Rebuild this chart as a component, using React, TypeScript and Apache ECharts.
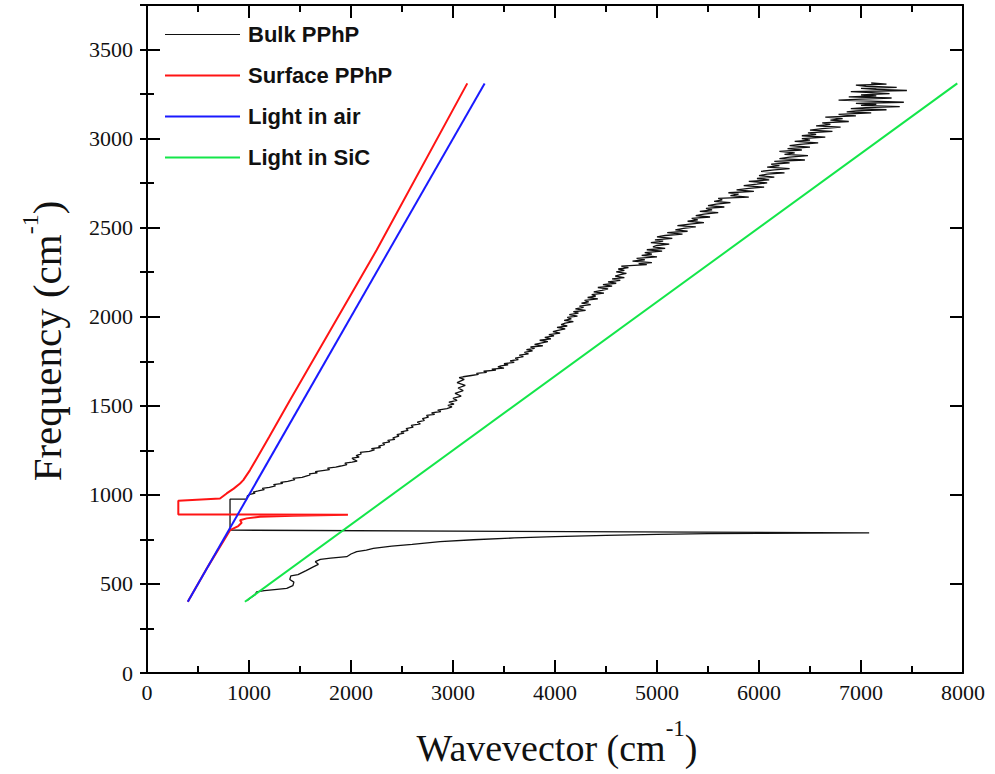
import React, { useEffect, useRef } from 'react';
import * as echarts from 'echarts';

// ---- data: [wavevector k (cm^-1), frequency ω (cm^-1)] ----
const bulkLower: [number, number][] = [
  [980, 405], [1010, 420], [1060, 440], [1075, 456], [1150, 462], [1250, 468], [1370, 475],
  [1430, 490], [1440, 510], [1400, 525], [1410, 545], [1480, 552], [1560, 575], [1630, 596],
  [1680, 610], [1650, 625], [1700, 638], [1800, 645], [1958, 653], [2000, 668], [2056, 681],
  [2150, 690], [2219, 700], [2400, 712], [2600, 722], [2873, 737], [3200, 748], [3600, 758],
  [4000, 766], [4500, 773], [5000, 778], [5500, 782], [6000, 784], [6500, 786], [7080, 787],
];
const bulkJoin: [number, number][] = [[814, 802], [814, 976]];
const bulkUpper: [number, number][] = [
  [977, 976], [985, 995], [1010, 1003], [1060, 1010], [1040, 1016], [1090, 1022], [1150, 1030],
  [1130, 1036], [1200, 1042], [1260, 1050], [1240, 1057], [1330, 1064], [1310, 1070], [1380, 1076],
  [1450, 1085], [1430, 1092], [1520, 1098], [1560, 1105], [1600, 1112], [1590, 1118], [1670, 1123],
  [1650, 1130], [1720, 1136], [1790, 1142], [1770, 1150], [1850, 1156], [1900, 1162], [1960, 1170],
  [1940, 1178], [2010, 1184], [2060, 1190], [2030, 1198], [2010, 1206], [2080, 1212], [2050, 1220],
  [2100, 1230], [2090, 1238], [2180, 1244], [2230, 1252], [2200, 1260], [2290, 1266], [2270, 1274],
  [2330, 1282], [2310, 1290], [2380, 1298], [2360, 1306], [2430, 1312], [2410, 1320], [2470, 1330],
  [2450, 1338], [2520, 1346], [2490, 1354], [2560, 1362], [2540, 1372], [2610, 1380], [2590, 1390],
  [2680, 1398], [2650, 1408], [2720, 1418], [2700, 1428], [2760, 1436], [2740, 1446], [2820, 1452],
  [2790, 1460], [2880, 1468], [2850, 1476], [2940, 1484], [2990, 1494], [2950, 1502], [3010, 1510],
  [2960, 1520], [3040, 1530], [3000, 1542], [3080, 1555], [3020, 1570], [3100, 1585], [3050, 1600],
  [3120, 1615], [3040, 1630], [3110, 1648], [3060, 1658],
  [3100, 1663], [3180, 1670], [3250, 1676], [3230, 1682], [3330, 1688], [3300, 1694], [3420, 1700],
  [3380, 1706], [3500, 1712], [3440, 1718], [3470, 1724], [3540, 1730], [3500, 1736], [3600, 1744],
  [3560, 1752], [3640, 1760], [3610, 1768], [3690, 1776], [3650, 1784], [3740, 1792], [3700, 1800],
  [3780, 1808], [3720, 1815], [3800, 1822], [3760, 1830], [3880, 1837], [3800, 1845], [3860, 1852],
  [3930, 1860], [3850, 1868], [3960, 1876], [3900, 1884], [3990, 1892], [3940, 1900], [4050, 1908],
  [3980, 1916], [4030, 1924], [4100, 1932], [4020, 1940], [4120, 1948], [4060, 1956], [4100, 1964],
  [4180, 1972], [4090, 1980], [4160, 1988], [4120, 1996],
  [4220, 2004], [4140, 2012], [4230, 2020], [4180, 2028], [4300, 2036], [4200, 2044], [4280, 2052],
  [4240, 2060], [4350, 2068], [4260, 2076], [4330, 2084], [4290, 2092], [4420, 2100], [4320, 2108],
  [4400, 2116], [4360, 2124], [4480, 2132], [4380, 2140], [4460, 2148], [4520, 2156], [4420, 2164],
  [4560, 2172], [4470, 2180], [4600, 2188], [4520, 2196],
  [4640, 2204], [4560, 2212], [4680, 2220], [4590, 2228], [4640, 2236], [4700, 2244], [4600, 2252],
  [4680, 2260], [4620, 2268], [4720, 2276], [4650, 2284], [4900, 2292], [4820, 2298], [4950, 2304],
  [4760, 2312], [4880, 2320], [4800, 2328], [5000, 2336], [4850, 2344], [4950, 2352], [4880, 2360],
  [5050, 2368], [4900, 2376], [5080, 2384], [4960, 2392], [5000, 2400], [5120, 2408], [4940, 2416],
  [5060, 2424], [4980, 2432], [5150, 2440], [5000, 2448], [5080, 2456], [5250, 2464], [5100, 2472],
  [5300, 2480], [5180, 2488], [5260, 2496],
  [5380, 2504], [5200, 2512], [5320, 2520], [5460, 2528], [5300, 2536], [5400, 2544], [5340, 2552],
  [5520, 2560], [5380, 2568], [5460, 2576], [5600, 2584], [5420, 2592], [5540, 2600], [5480, 2608],
  [5660, 2616], [5500, 2624], [5580, 2632], [5720, 2640], [5560, 2648], [5640, 2656], [5600, 2664],
  [5900, 2672], [5720, 2680], [5800, 2688], [5700, 2696],
  [5950, 2704], [5780, 2712], [5900, 2720], [6050, 2728], [5850, 2736], [5980, 2744], [6080, 2752],
  [5900, 2760], [6100, 2768], [5980, 2776], [6150, 2784], [6000, 2792], [6080, 2800], [6250, 2808],
  [6020, 2816], [6150, 2824], [6300, 2832], [6080, 2840], [6200, 2848], [6120, 2856], [6300, 2864],
  [6150, 2872], [6450, 2880], [6200, 2888], [6300, 2896],
  [6480, 2904], [6250, 2912], [6350, 2920], [6200, 2928], [6420, 2936], [6280, 2944], [6500, 2952],
  [6300, 2960], [6400, 2968], [6580, 2976], [6350, 2984], [6500, 2992], [6420, 3000], [6650, 3008],
  [6420, 3016], [6560, 3024], [6480, 3032], [6720, 3040], [6500, 3048], [6620, 3056], [6800, 3064],
  [6560, 3072], [6700, 3080], [6620, 3088], [6880, 3096],
  [6700, 3104], [6820, 3112], [6650, 3120], [6950, 3128], [6780, 3136], [7100, 3144], [6860, 3150],
  [6950, 3156], [7250, 3162], [6900, 3168], [7050, 3174], [7380, 3180], [7000, 3186], [7150, 3192],
  [6950, 3198], [7420, 3204], [7100, 3210], [6780, 3216], [7000, 3222], [7300, 3228], [6880, 3234],
  [7150, 3240], [7000, 3246], [7280, 3252], [7100, 3258], [6900, 3264], [7450, 3270], [7150, 3276],
  [7000, 3282], [7350, 3288], [7050, 3294], [6950, 3300], [7250, 3306], [7100, 3312],
];
const surfacePPhP: [number, number][] = [
  [400, 400], [600, 600], [814, 802], [895, 825], [928, 843], [912, 858], [977, 868], [1108, 877],
  [1435, 883], [1970, 888], [307, 890], [307, 967], [716, 980], [781, 1008], [850, 1035],
  [912, 1064], [944, 1083], [1010, 1139], [1200, 1328], [1400, 1530], [2250, 2373], [3140, 3310],
];
const lightInAir: [number, number][] = [[400, 400], [3310, 3310]];
const lightInSiC: [number, number][] = [[960, 400], [7944, 3310]];

const seriesNames = ['Bulk PPhP', 'Surface PPhP', 'Light in air', 'Light in SiC'];
const seriesColors = ['#111111', '#ff1414', '#1a1aff', '#14e64a'];

const xMin = 0, xMax = 8000, xStep = 1000;
const yMin = 0, yMax = 3750, yStep = 500, yMinorStep = 250;

const SERIF = '"Liberation Serif", "Times New Roman", serif';
const SANS = '"Liberation Sans", Arial, sans-serif';

export default function App() {
  const ref = useRef<HTMLDivElement>(null);
  useEffect(() => {
    if (!ref.current) return;
    const chart = echarts.init(ref.current, undefined, { renderer: 'svg' });
    const tickLine = { color: '#000', width: 2 };
    const axisLine = { show: true, onZero: false, lineStyle: { color: '#000', width: 2 } };
    const fmt = (v: number) => String(v);
    const xBase = (pos: 'bottom' | 'top', labels: boolean) => ({
      type: 'value', min: xMin, max: xMax, interval: xStep, position: pos,
      axisLine, splitLine: { show: false },
      axisTick: { show: true, inside: true, length: 13, lineStyle: tickLine },
      minorTick: { show: true, splitNumber: 2, length: 7, lineStyle: tickLine },
      axisLabel: { show: labels, formatter: fmt, fontFamily: SERIF, fontSize: 22, color: '#111', margin: 8 },
    });
    const yMajor = (pos: 'left' | 'right', labels: boolean) => ({
      type: 'value', min: yMin, max: yMax, interval: yStep, position: pos,
      axisLine, splitLine: { show: false },
      axisTick: { show: true, inside: true, length: 13, lineStyle: tickLine },
      axisLabel: { show: labels, formatter: fmt, showMaxLabel: false, fontFamily: SERIF, fontSize: 22, color: '#111', margin: 14 },
    });
    const yMinor = (pos: 'left' | 'right') => ({
      type: 'value', min: yMin, max: yMax, interval: yMinorStep, position: pos,
      axisLine: { show: false }, splitLine: { show: false },
      axisTick: { show: true, inside: true, length: 7, lineStyle: tickLine },
      axisLabel: { show: false },
    });
    const allData = [
      [...bulkLower, ...bulkJoin, ...bulkUpper],
      surfacePPhP,
      lightInAir,
      lightInSiC,
    ];
    const widths = [1.3, 2, 2, 2];
    chart.setOption({
      animation: false,
      backgroundColor: '#fff',
      grid: { left: 147, right: 32, top: 5, bottom: 101, containLabel: false },
      xAxis: [xBase('bottom', true), xBase('top', false)],
      yAxis: [yMajor('left', true), yMajor('right', false), yMinor('left'), yMinor('right')],
      legend: {
        orient: 'vertical', left: 165, top: 22, padding: 0,
        itemWidth: 75, itemHeight: 2, itemGap: 16, symbolKeepAspect: true,
        textStyle: { fontFamily: SANS, fontWeight: 'bold', fontSize: 22, color: '#111', lineHeight: 25, padding: [0, 0, 0, 3] },
        data: seriesNames.map((name, i) => ({
          name,
          icon: i === 0 ? 'path://M0,0H75V1H0Z' : 'rect',
        })),
      },
      series: seriesNames.map((name, i) => ({
        name, type: 'line', data: allData[i], symbol: 'none', showSymbol: false,
        xAxisIndex: 0, yAxisIndex: 0,
        lineStyle: { color: seriesColors[i], width: widths[i] },
        itemStyle: { color: seriesColors[i] },
        z: 2 + i,
      })),
      graphic: [
        {
          type: 'text', x: 557, y: 748,
          style: {
            text: '{a|Wavevector (cm}{s|-1}{a|)}',
            align: 'center', verticalAlign: 'middle',
            rich: {
              a: { fontFamily: SERIF, fontSize: 38, lineHeight: 63, fill: '#111' },
              s: { fontFamily: SERIF, fontSize: 23, lineHeight: 24, verticalAlign: 'top', fill: '#111' },
            },
          },
        },
        {
          type: 'text', x: 47, y: 341, rotation: Math.PI / 2,
          style: {
            text: '{a|Frequency (cm}{s|-1}{a|)}',
            align: 'center', verticalAlign: 'middle',
            rich: {
              a: { fontFamily: SERIF, fontSize: 41, lineHeight: 58, fill: '#111' },
              s: { fontFamily: SERIF, fontSize: 24, lineHeight: 25, verticalAlign: 'top', fill: '#111' },
            },
          },
        },
      ],
    });
    return () => chart.dispose();
  }, []);
  return (
    <div
      ref={ref}
      style={{ position: 'absolute', left: 0, top: 0, width: 995, height: 774 }}
    />
  );
}
